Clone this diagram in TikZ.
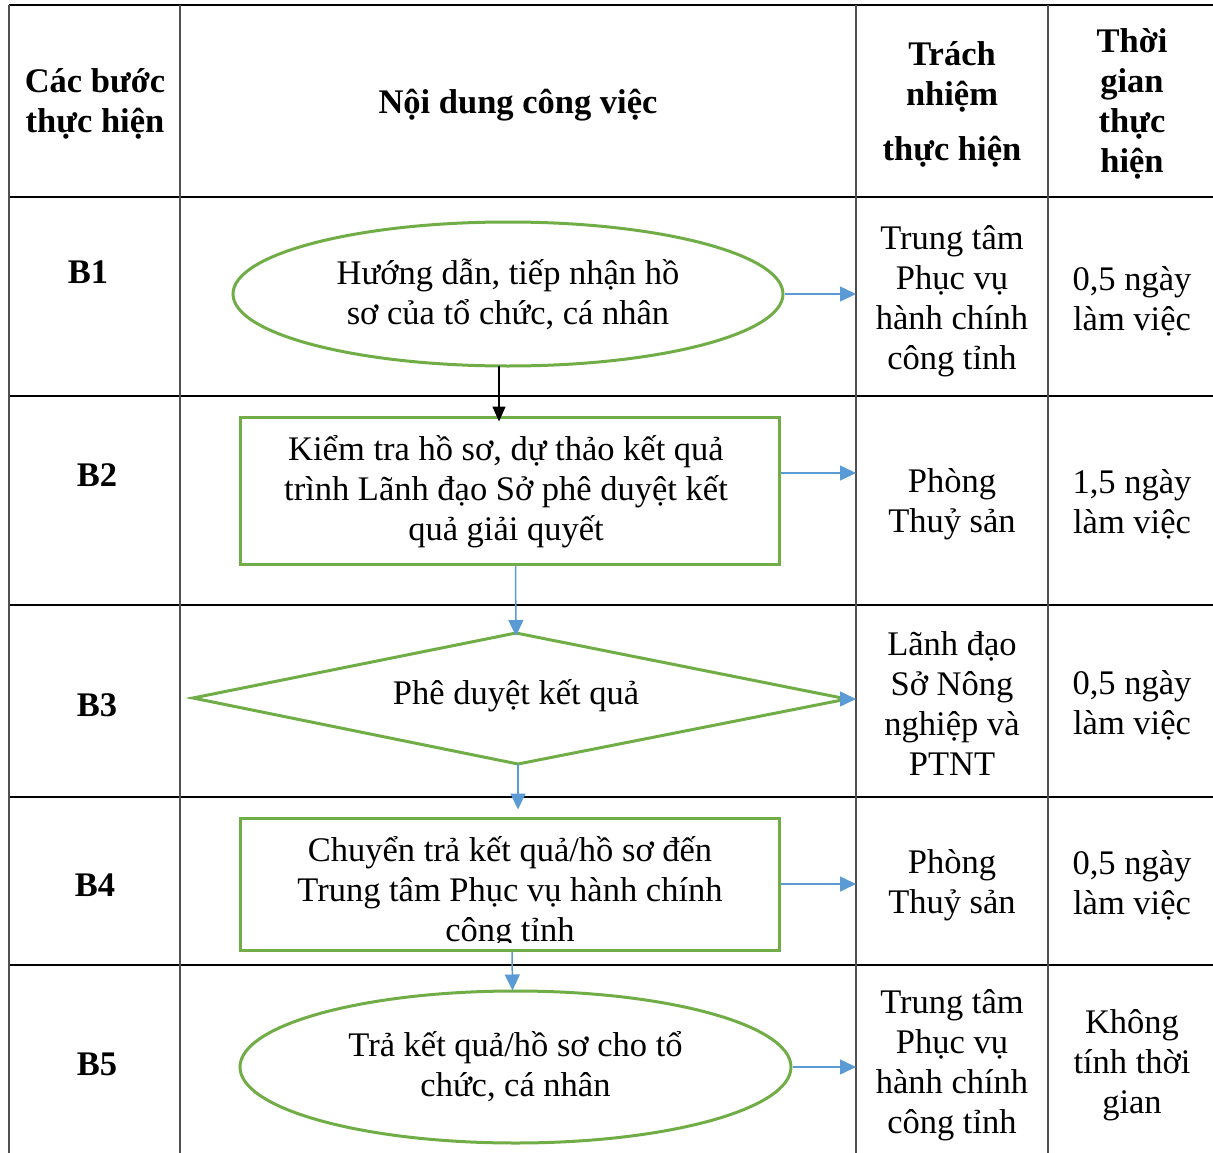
\documentclass[tikz,border=0pt]{standalone}
\usepackage{fontspec}
\setmainfont{Liberation Serif}
\usetikzlibrary{arrows.meta,shapes.geometric}
\definecolor{grn}{HTML}{70AD47}
\definecolor{blu}{HTML}{5B9BD5}
\definecolor{vgray}{HTML}{505050}
\begin{document}
\begin{tikzpicture}[x=1pt,y=-1pt,
  hln/.style={black,line width=1.6pt},
  vln/.style={vgray,line width=2.2pt},
  shp/.style={draw=grn,line width=3pt},
  barr/.style={draw=blu,line width=1.5pt,-{Triangle[length=16pt,width=15pt]}},
  karr/.style={draw=black,line width=1.5pt,-{Triangle[length=15pt,width=13pt]}},
  txt/.style={align=center,inner sep=0pt,font=\fontsize{34.5}{40}\selectfont},
  hdr/.style={align=center,inner sep=0pt,font=\fontsize{34.5}{40}\selectfont\bfseries}]
\useasboundingbox (0,0) rectangle (1213,1153);
% table grid
\draw[hln] (9,5) -- (1213,5);
\foreach \yy in {197,396,605,797,965} \draw[hln] (9,\yy) -- (1213,\yy);
\foreach \xx in {9,180,856,1048} \draw[vln] (\xx,5) -- (\xx,1153);
% header
\node[hdr] (h1) at (95,104) {Các bước\\thực hiện};
\node[hdr] (h2) at (518,105) {Nội dung công việc};
\node[hdr] (h3) at (952,104) {Trách\\nhiệm\\[15pt]thực hiện};
\node[hdr] (h4) at (1132,104) {Thời\\gian\\thực\\hiện};
% step labels
\node[hdr] (s1) at (88,272) {B1};
\node[hdr] (s2) at (97,475) {B2};
\node[hdr] (s3) at (97,705) {B3};
\node[hdr] (s4) at (95,885) {B4};
\node[hdr] (s5) at (97,1064) {B5};
% responsibility
\node[txt] (r1) at (952,301) {Trung tâm\\Phục vụ\\hành chính\\công tỉnh};
\node[txt] (r2) at (952,504) {Phòng\\Thuỷ sản};
\node[txt] (r3) at (952,704) {Lãnh đạo\\Sở Nông\\nghiệp và\\PTNT};
\node[txt] (r4) at (952,885) {Phòng\\Thuỷ sản};
\node[txt] (r5) at (952,1065) {Trung tâm\\Phục vụ\\hành chính\\công tỉnh};
% time
\node[txt] (t1) at (1132,301) {0,5 ngày\\làm việc};
\node[txt] (t2) at (1132,504) {1,5 ngày\\làm việc};
\node[txt] (t3) at (1132,705) {0,5 ngày\\làm việc};
\node[txt] (t4) at (1132,885) {0,5 ngày\\làm việc};
\node[txt] (t5) at (1132,1065) {Không\\tính thời\\gian};
% column boundary coordinates
\coordinate (c1) at (856,294);
\coordinate (c2) at (856,473);
\coordinate (c3) at (856,699);
\coordinate (c4) at (856,884);
\coordinate (c5) at (856,1067);
% shapes
\node[shp,ellipse,minimum width=550,minimum height=144,inner sep=0pt,align=center,
  font=\fontsize{34.5}{40}\selectfont] (e1) at (508,294) {Hướng dẫn, tiếp nhận hồ\\sơ của tổ chức, cá nhân};
\node[shp,rectangle,minimum width=539,minimum height=147,inner sep=0pt] (b2) at (509.5,490.5) {};
\node[txt] (b2t) at (506,492) {Kiểm tra hồ sơ, dự thảo kết quả\\trình Lãnh đạo Sở phê duyệt kết\\quả giải quyết};
\coordinate (dT) at (516,633);
\coordinate (dB) at (518,764);
\coordinate (dL) at (193,698);
\coordinate (dR) at (847,699);
\draw[shp] (dT) -- (dR) -- (dB) -- (dL) -- cycle;
\node[txt] (d3) at (516,696) {Phê duyệt kết quả};
\begin{scope}
\clip (240,818) rectangle (779,942);
\node[txt] (b4t) at (510,893) {Chuyển trả kết quả/hồ sơ đến\\Trung tâm Phục vụ hành chính\\công tỉnh};
\end{scope}
\node[shp,rectangle,minimum width=539,minimum height=132,inner sep=0pt] (b4) at (509.5,884) {};
\node[shp,ellipse,minimum width=551,minimum height=152,inner sep=0pt,align=center,
  font=\fontsize{34.5}{40}\selectfont] (e5) at (515.5,1067) {Trả kết quả/hồ sơ cho tổ\\chức, cá nhân};
% connectors
\draw[karr] ([xshift=-9pt,yshift=2pt]e1.south) -- ([xshift=-10.5pt,yshift=-6pt]b2.north);
\draw[barr] (e1.east) -- (c1);
\draw[barr] (b2.east |- c2) -- (c2);
\draw[barr] ([xshift=6pt]b2.south) -- ([yshift=-3pt]dT);
\draw[barr] (dR) -- (c3);
\draw[barr] (dB) -- ([yshift=7pt]dB |- b4.north);
\draw[barr] (b4.east) -- (c4);
\draw[barr] ([xshift=2.5pt]b4.south) -- ([xshift=-3pt,yshift=-1pt]e5.north);
\draw[barr] (e5.east) -- (c5);
\end{tikzpicture}
\end{document}
